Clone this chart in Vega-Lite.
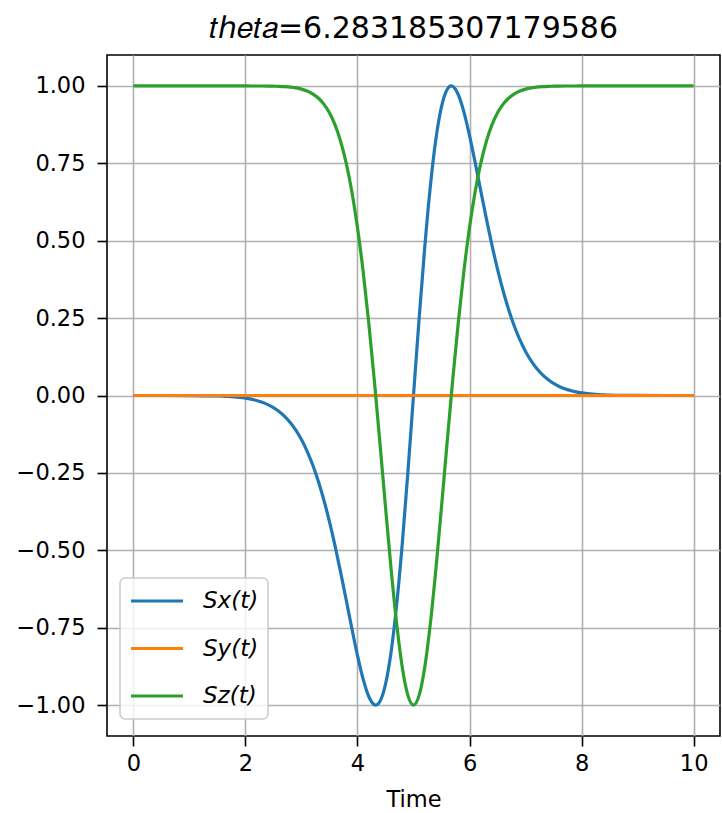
{
  "$schema": "https://vega.github.io/schema/vega-lite/v6.json",
  "width": 613,
  "height": 681,
  "autosize": {"type": "none"},
  "padding": {"left": 107, "top": 55, "right": 2, "bottom": 77},
  "background": "white",
  "title": {
    "text": "𝑡ℎ𝑒𝑡𝑎=6.283185307179586",
    "font": "DejaVu Sans",
    "fontSize": 30,
    "fontWeight": "normal",
    "color": "#000",
    "anchor": "middle",
    "baseline": "alphabetic",
    "offset": -13
  },
  "data": {
    "values": [
      {"t": 0, "Sx": 0, "Sy": 0, "Sz": 1},
      {"t": 0.5, "Sx": 0, "Sy": 0, "Sz": 1},
      {"t": 1.0, "Sx": -0.0002, "Sy": 0, "Sz": 1},
      {"t": 1.5, "Sx": -0.0015, "Sy": 0, "Sz": 1},
      {"t": 1.6, "Sx": -0.0021, "Sy": 0, "Sz": 1},
      {"t": 1.7, "Sx": -0.003, "Sy": 0, "Sz": 1},
      {"t": 1.8, "Sx": -0.0043, "Sy": 0, "Sz": 1},
      {"t": 1.9, "Sx": -0.0061, "Sy": 0, "Sz": 1},
      {"t": 2.0, "Sx": -0.0085, "Sy": 0, "Sz": 1},
      {"t": 2.1, "Sx": -0.0117, "Sy": 0, "Sz": 0.9999},
      {"t": 2.2, "Sx": -0.0161, "Sy": 0, "Sz": 0.9999},
      {"t": 2.3, "Sx": -0.0218, "Sy": 0, "Sz": 0.9998},
      {"t": 2.4, "Sx": -0.0293, "Sy": 0, "Sz": 0.9996},
      {"t": 2.5, "Sx": -0.039, "Sy": 0, "Sz": 0.9992},
      {"t": 2.6, "Sx": -0.0515, "Sy": 0, "Sz": 0.9987},
      {"t": 2.7, "Sx": -0.0673, "Sy": 0, "Sz": 0.9977},
      {"t": 2.8, "Sx": -0.0872, "Sy": 0, "Sz": 0.9962},
      {"t": 2.9, "Sx": -0.112, "Sy": 0, "Sz": 0.9937},
      {"t": 3.0, "Sx": -0.1425, "Sy": 0, "Sz": 0.9898},
      {"t": 3.1, "Sx": -0.1795, "Sy": 0, "Sz": 0.9838},
      {"t": 3.2, "Sx": -0.2239, "Sy": 0, "Sz": 0.9746},
      {"t": 3.3, "Sx": -0.2764, "Sy": 0, "Sz": 0.961},
      {"t": 3.4, "Sx": -0.3376, "Sy": 0, "Sz": 0.9413},
      {"t": 3.5, "Sx": -0.4076, "Sy": 0, "Sz": 0.9132},
      {"t": 3.6, "Sx": -0.4859, "Sy": 0, "Sz": 0.874},
      {"t": 3.7, "Sx": -0.5714, "Sy": 0, "Sz": 0.8207},
      {"t": 3.8, "Sx": -0.6616, "Sy": 0, "Sz": 0.7498},
      {"t": 3.9, "Sx": -0.7529, "Sy": 0, "Sz": 0.6581},
      {"t": 4.0, "Sx": -0.8398, "Sy": 0, "Sz": 0.5429},
      {"t": 4.1, "Sx": -0.9154, "Sy": 0, "Sz": 0.4026},
      {"t": 4.2, "Sx": -0.9716, "Sy": 0, "Sz": 0.2374},
      {"t": 4.3, "Sx": -0.9987, "Sy": 0, "Sz": 0.0505},
      {"t": 4.3255, "Sx": -1, "Sy": 0, "Sz": 0},
      {"t": 4.4, "Sx": -0.9884, "Sy": 0, "Sz": -0.1518},
      {"t": 4.5, "Sx": -0.9331, "Sy": 0, "Sz": -0.3596},
      {"t": 4.6, "Sx": -0.8286, "Sy": 0, "Sz": -0.5599},
      {"t": 4.7, "Sx": -0.6749, "Sy": 0, "Sz": -0.7379},
      {"t": 4.8, "Sx": -0.4777, "Sy": 0, "Sz": -0.8785},
      {"t": 4.9, "Sx": -0.2477, "Sy": 0, "Sz": -0.9688},
      {"t": 5.0, "Sx": 0, "Sy": 0, "Sz": -1},
      {"t": 5.1, "Sx": 0.2477, "Sy": 0, "Sz": -0.9688},
      {"t": 5.2, "Sx": 0.4777, "Sy": 0, "Sz": -0.8785},
      {"t": 5.3, "Sx": 0.6749, "Sy": 0, "Sz": -0.7379},
      {"t": 5.4, "Sx": 0.8286, "Sy": 0, "Sz": -0.5599},
      {"t": 5.5, "Sx": 0.9331, "Sy": 0, "Sz": -0.3596},
      {"t": 5.6, "Sx": 0.9884, "Sy": 0, "Sz": -0.1518},
      {"t": 5.6745, "Sx": 1, "Sy": 0, "Sz": 0},
      {"t": 5.7, "Sx": 0.9987, "Sy": 0, "Sz": 0.0505},
      {"t": 5.8, "Sx": 0.9716, "Sy": 0, "Sz": 0.2374},
      {"t": 5.9, "Sx": 0.9154, "Sy": 0, "Sz": 0.4026},
      {"t": 6.0, "Sx": 0.8398, "Sy": 0, "Sz": 0.5429},
      {"t": 6.1, "Sx": 0.7529, "Sy": 0, "Sz": 0.6581},
      {"t": 6.2, "Sx": 0.6616, "Sy": 0, "Sz": 0.7498},
      {"t": 6.3, "Sx": 0.5714, "Sy": 0, "Sz": 0.8207},
      {"t": 6.4, "Sx": 0.4859, "Sy": 0, "Sz": 0.874},
      {"t": 6.5, "Sx": 0.4076, "Sy": 0, "Sz": 0.9132},
      {"t": 6.6, "Sx": 0.3376, "Sy": 0, "Sz": 0.9413},
      {"t": 6.7, "Sx": 0.2764, "Sy": 0, "Sz": 0.961},
      {"t": 6.8, "Sx": 0.2239, "Sy": 0, "Sz": 0.9746},
      {"t": 6.9, "Sx": 0.1795, "Sy": 0, "Sz": 0.9838},
      {"t": 7.0, "Sx": 0.1425, "Sy": 0, "Sz": 0.9898},
      {"t": 7.1, "Sx": 0.112, "Sy": 0, "Sz": 0.9937},
      {"t": 7.2, "Sx": 0.0872, "Sy": 0, "Sz": 0.9962},
      {"t": 7.3, "Sx": 0.0673, "Sy": 0, "Sz": 0.9977},
      {"t": 7.4, "Sx": 0.0515, "Sy": 0, "Sz": 0.9987},
      {"t": 7.5, "Sx": 0.039, "Sy": 0, "Sz": 0.9992},
      {"t": 7.6, "Sx": 0.0293, "Sy": 0, "Sz": 0.9996},
      {"t": 7.7, "Sx": 0.0218, "Sy": 0, "Sz": 0.9998},
      {"t": 7.8, "Sx": 0.0161, "Sy": 0, "Sz": 0.9999},
      {"t": 7.9, "Sx": 0.0117, "Sy": 0, "Sz": 0.9999},
      {"t": 8.0, "Sx": 0.0085, "Sy": 0, "Sz": 1},
      {"t": 8.1, "Sx": 0.0061, "Sy": 0, "Sz": 1},
      {"t": 8.2, "Sx": 0.0043, "Sy": 0, "Sz": 1},
      {"t": 8.3, "Sx": 0.003, "Sy": 0, "Sz": 1},
      {"t": 8.4, "Sx": 0.0021, "Sy": 0, "Sz": 1},
      {"t": 8.5, "Sx": 0.0015, "Sy": 0, "Sz": 1},
      {"t": 9.0, "Sx": 0.0002, "Sy": 0, "Sz": 1},
      {"t": 9.5, "Sx": 0, "Sy": 0, "Sz": 1},
      {"t": 10.0, "Sx": 0, "Sy": 0, "Sz": 1}
    ]
  },
  "transform": [{"fold": ["Sx", "Sy", "Sz"], "as": ["series", "value"]}],
  "mark": {"type": "line", "strokeWidth": 3.2, "interpolate": "monotone", "clip": true},
  "encoding": {
    "x": {
      "field": "t",
      "type": "quantitative",
      "scale": {"domain": [-0.47, 10.47], "nice": false, "zero": false},
      "axis": {"values": [0, 2, 4, 6, 8, 10], "title": "Time", "labelPadding": 6, "titlePadding": 14, "format": "d"}
    },
    "y": {
      "field": "value",
      "type": "quantitative",
      "scale": {"domain": [-1.1, 1.1], "nice": false, "zero": false},
      "axis": {"values": [-1, -0.75, -0.5, -0.25, 0, 0.25, 0.5, 0.75, 1], "format": ".2f", "title": null, "labelPadding": 12}
    },
    "color": {
      "field": "series",
      "type": "nominal",
      "scale": {"domain": ["Sx", "Sy", "Sz"], "range": ["#1f77b4", "#ff7f0e", "#2ca02c"]},
      "legend": {
        "title": null,
        "orient": "none",
        "legendX": 13,
        "legendY": 523,
        "symbolType": "stroke",
        "symbolSize": 2700,
        "symbolStrokeWidth": 3.2,
        "clipHeight": 28,
        "rowPadding": 19.5,
        "labelFontSize": 23,
        "labelFont": "DejaVu Sans",
        "labelFontStyle": "italic",
        "labelColor": "#000",
        "labelOffset": 18,
        "labelExpr": "datum.label + '(t)'",
        "padding": 9,
        "fillColor": "rgba(255,255,255,0.8)",
        "strokeColor": "#cccccc",
        "cornerRadius": 5,
        "encode": {"legend": {"update": {"strokeWidth": {"value": 1.6}}}}
      }
    }
  },
  "config": {
    "font": "DejaVu Sans",
    "view": {"stroke": "#000", "strokeWidth": 1.6},
    "axis": {
      "labelFont": "DejaVu Sans",
      "labelFontSize": 22.5,
      "labelColor": "#000",
      "tickColor": "#000",
      "tickWidth": 1.6,
      "tickSize": 10,
      "domain": false,
      "grid": true,
      "gridColor": "#b0b0b0",
      "gridWidth": 1.6,
      "titleFont": "DejaVu Sans",
      "titleFontSize": 22.5,
      "titleFontWeight": "normal",
      "titleColor": "#000"
    }
  }
}
